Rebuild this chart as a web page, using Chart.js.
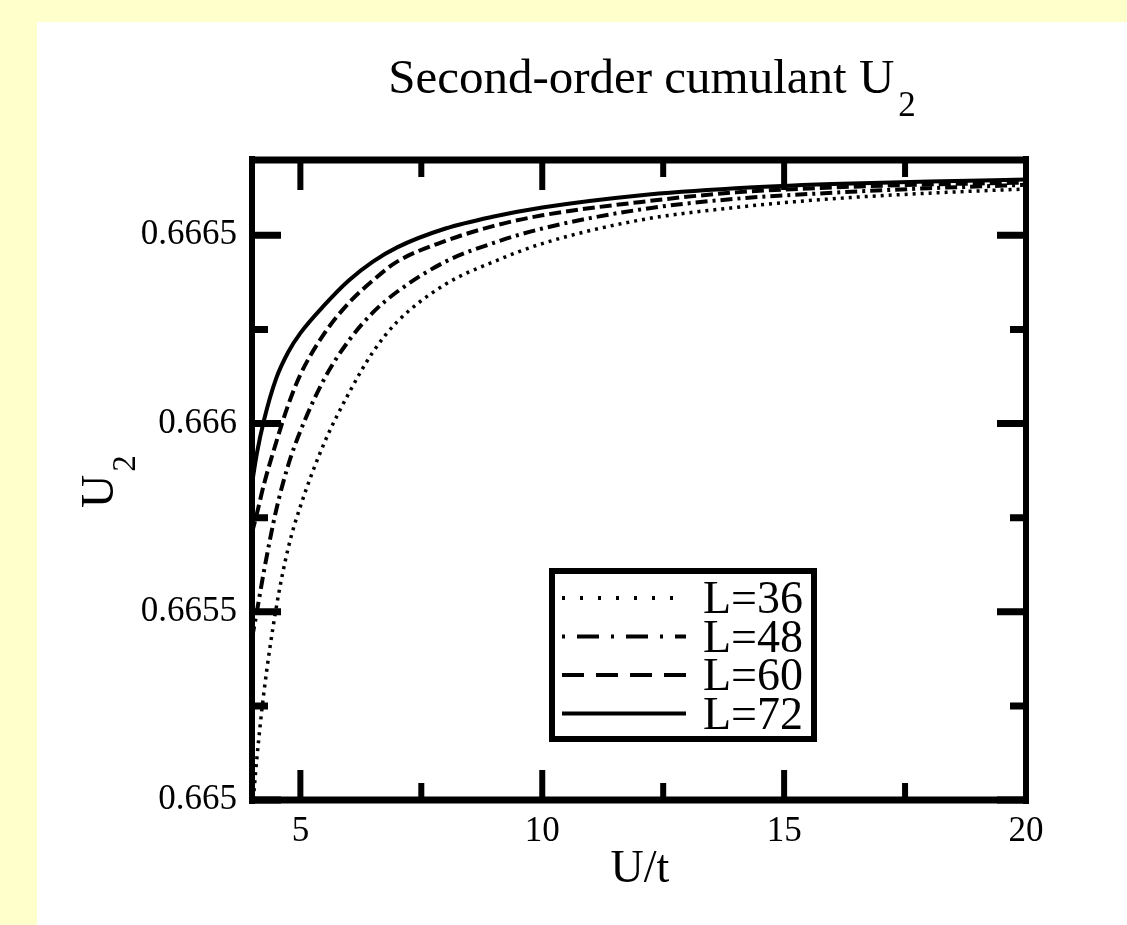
<!DOCTYPE html>
<html lang="en">
<head>
    <meta charset="UTF-8">
    <title>Second-order cumulant U2</title>
    <script src="https://cdn.jsdelivr.net/npm/chart.js"></script>
    <style>
        body {
            margin: 0;
            background-color: #ffffcc;
            width: 1127px;
            height: 925px;
            overflow: hidden;
        }
        #wrap {
            position: absolute;
            left: 37px;
            top: 22px;
            width: 1090px;
            height: 903px;
            background-color: #ffffff;
        }
    </style>
</head>
<body>
    <div id="wrap"><canvas id="cumulantChart"></canvas></div>

    <script>
        // data
        const uValues = [4.0, 4.1, 4.25, 4.5, 4.75, 5.0, 5.5, 6.0, 6.5, 7.0, 8.0, 9.0, 10.0, 12.0, 14.0, 16.0, 18.0, 20.0];
        const u2L36 = [0.66496, 0.66511, 0.66529, 0.66551, 0.66567, 0.66578, 0.66595, 0.66608, 0.66619, 0.66627, 0.66637, 0.66643, 0.666478, 0.66654, 0.666574, 0.666597, 0.666612, 0.666623];
        const u2L48 = [0.66543, 0.66550, 0.66561, 0.66577, 0.66589, 0.66598, 0.66612, 0.66622, 0.666295, 0.66635, 0.66643, 0.66648, 0.666518, 0.666568, 0.666597, 0.666613, 0.666625, 0.666634];
        const u2L60 = [0.66571, 0.66576, 0.66584, 0.66595, 0.66605, 0.66613, 0.66624, 0.66632, 0.66638, 0.66643, 0.666485, 0.666525, 0.666553, 0.666588, 0.666614, 0.666627, 0.666635, 0.666640];
        const u2L72 = [0.66584, 0.66592, 0.66601, 0.66612, 0.66619, 0.66624, 0.666315, 0.66638, 0.66643, 0.666468, 0.666518, 0.66655, 0.666574, 0.666606, 0.666625, 0.666636, 0.666643, 0.666648];
        const seriesLabels = ['L=36', 'L=48', 'L=60', 'L=72'];

        // tick values
        const xMajor = [5, 10, 15, 20];
        const xMinor = [7.5, 12.5, 17.5];
        const yMajor = [0.665, 0.6655, 0.666, 0.6665];
        const yMinor = [0.66525, 0.66575, 0.66625];

        const serif = '"Liberation Serif", "DejaVu Serif", serif';
        const dashes = [[3, 5], [12, 5, 3, 5], [12, 5], []];
        const legendDashes = [[3, 15], [3, 12, 22, 12], [22, 12], []];

        function toPoints(vals) {
            return uValues.map((u, i) => ({ x: u, y: vals[i] }));
        }

        // 그림 틀, 안쪽 눈금, 범례, 제목
        const framePlugin = {
            id: 'framePlugin',
            afterDraw(chart) {
                const ctx = chart.ctx;
                const area = chart.chartArea;
                const xs = chart.scales.x;
                const ys = chart.scales.y;
                const midX = (area.left + area.right) / 2;
                ctx.save();
                ctx.strokeStyle = '#000';
                ctx.fillStyle = '#000';
                ctx.lineCap = 'butt';

                // ticks pointing inwards on all four sides
                ctx.lineWidth = 6;
                ctx.beginPath();
                xMajor.concat(xMinor).forEach(v => {
                    const len = xMajor.includes(v) ? 30 : 17;
                    const px = xs.getPixelForValue(v);
                    ctx.moveTo(px, area.bottom); ctx.lineTo(px, area.bottom - len);
                    ctx.moveTo(px, area.top); ctx.lineTo(px, area.top + len);
                });
                ctx.stroke();
                ctx.lineWidth = 7;
                ctx.beginPath();
                yMajor.concat(yMinor).forEach(v => {
                    const len = yMajor.includes(v) ? 29 : 16;
                    const py = ys.getPixelForValue(v);
                    ctx.moveTo(area.left, py); ctx.lineTo(area.left + len, py);
                    ctx.moveTo(area.right, py); ctx.lineTo(area.right - len, py);
                });
                ctx.stroke();

                // frame (horizontal sides a bit heavier, like the original)
                ctx.lineWidth = 6;
                ctx.beginPath();
                ctx.moveTo(area.left, area.top - 4); ctx.lineTo(area.left, area.bottom + 4);
                ctx.moveTo(area.right, area.top - 4); ctx.lineTo(area.right, area.bottom + 4);
                ctx.stroke();
                ctx.lineWidth = 7;
                ctx.beginPath();
                ctx.moveTo(area.left - 3, area.top); ctx.lineTo(area.right + 3, area.top);
                ctx.moveTo(area.left - 3, area.bottom); ctx.lineTo(area.right + 3, area.bottom);
                ctx.stroke();

                // legend box
                const lx = area.left + 300, ly = area.top + 411, lw = 262, lh = 168;
                ctx.fillStyle = '#fff';
                ctx.fillRect(lx, ly, lw, lh);
                ctx.lineWidth = 6;
                ctx.strokeRect(lx, ly, lw, lh);
                ctx.fillStyle = '#000';
                ctx.font = '46px ' + serif;
                ctx.textBaseline = 'alphabetic';
                ctx.textAlign = 'left';
                chart.data.datasets.forEach((ds, i) => {
                    const base = ly + 42 + i * 38.5;
                    const mid = base - 15;
                    ctx.lineWidth = 4;
                    ctx.setLineDash(legendDashes[i]);
                    ctx.beginPath();
                    ctx.moveTo(lx + 10, mid);
                    ctx.lineTo(lx + 134, mid);
                    ctx.stroke();
                    ctx.setLineDash([]);
                    ctx.fillText(ds.label, lx + 151, base);
                });

                // chart title with subscript
                ctx.font = '49px ' + serif;
                const main = 'Second-order cumulant U';
                const w = ctx.measureText(main).width;
                ctx.font = '35px ' + serif;
                const sw = ctx.measureText('2').width;
                const tx = midX + 13 - (w + sw + 4) / 2;
                ctx.font = '49px ' + serif;
                ctx.fillText(main, tx, 71);
                ctx.font = '35px ' + serif;
                ctx.fillText('2', tx + w + 4, 94);

                // x axis title
                ctx.font = '46px ' + serif;
                ctx.textAlign = 'center';
                ctx.fillText('U/t', midX + 1, 860);

                // y axis title, rotated
                ctx.translate(76, (area.top + area.bottom) / 2 + 28);
                ctx.rotate(-Math.PI / 2);
                ctx.textAlign = 'left';
                ctx.font = '46px ' + serif;
                const uw = ctx.measureText('U').width;
                ctx.fillText('U', 0, 0);
                ctx.font = '33px ' + serif;
                ctx.fillText('2', uw + 3, 22);
                ctx.restore();
            }
        };

        const ctx = document.getElementById('cumulantChart').getContext('2d');
        const cumulantChart = new Chart(ctx, {
            type: 'line',
            data: {
                datasets: [u2L36, u2L48, u2L60, u2L72].map((vals, i) => ({
                    label: seriesLabels[i],
                    data: toPoints(vals),
                    borderColor: '#000',
                    borderWidth: i === 0 ? 3.5 : 4,
                    borderDash: dashes[i],
                    pointRadius: 0,
                    cubicInterpolationMode: 'monotone',
                    fill: false
                }))
            },
            options: {
                responsive: true,
                maintainAspectRatio: false,
                animation: false,
                layout: {
                    padding: { left: 0, top: 138, right: 101, bottom: 0 }
                },
                plugins: {
                    legend: { display: false },
                    title: { display: false },
                    tooltip: { enabled: false }
                },
                scales: {
                    x: {
                        type: 'linear',
                        min: 4,
                        max: 20,
                        grid: { display: false },
                        border: { display: false },
                        afterBuildTicks: s => { s.ticks = xMajor.map(v => ({ value: v })); },
                        afterFit: s => { s.height = 125; },
                        ticks: {
                            color: '#000',
                            padding: 3,
                            maxRotation: 0,
                            font: { family: serif, size: 35 }
                        }
                    },
                    y: {
                        type: 'linear',
                        min: 0.665,
                        max: 0.6667,
                        grid: { display: false },
                        border: { display: false },
                        afterBuildTicks: s => { s.ticks = yMajor.map(v => ({ value: v })); },
                        afterFit: s => { s.width = 215; },
                        ticks: {
                            color: '#000',
                            padding: 7,
                            font: { family: serif, size: 35 },
                            callback: v => String(parseFloat(Number(v).toFixed(4)))
                        }
                    }
                }
            },
            plugins: [framePlugin]
        });
    </script>
</body>
</html>
